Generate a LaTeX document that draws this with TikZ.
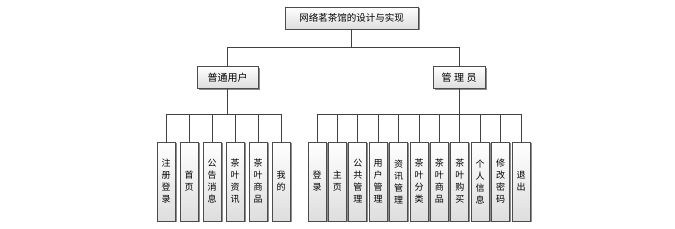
\documentclass[tikz,border=0pt]{standalone}
\usepackage{fontspec}
\setmainfont{Noto Sans CJK SC}
\usetikzlibrary{shadows}
\begin{document}
\begin{tikzpicture}[x=1pt,y=-1pt,
  box/.style={draw=black!70, line width=0.8pt, top color=white, bottom color=black!13,
    drop shadow={shadow xshift=1.5pt, shadow yshift=-1.5pt, fill=black!45, opacity=1},
    inner sep=0pt, align=center},
  topbox/.style={box, minimum width=133pt, minimum height=22pt, font=\fontsize{9.5}{11}\selectfont},
  midbox/.style={box, minimum height=22pt, font=\fontsize{10}{11}\selectfont},
  leaf/.style={box, minimum width=18pt, minimum height=79pt, font=\fontsize{9}{12}\selectfont},
  conn/.style={draw=black!75, line width=0.8pt}]
\useasboundingbox (0,0) rectangle (675,229);
\node[topbox] (top) at (351.5,18) {网络茗茶馆的设计与实现};
\node[midbox, minimum width=61pt] (user) at (227.5,77.5) {普通用户};
\node[midbox, minimum width=52pt] (admin) at (459,77.5) {管\hspace{0.25em}理\hspace{0.25em}员};
\coordinate (bus0) at (0,47);
\coordinate (bus1) at (0,114);
\draw[conn] (top.south) -- (top.south |- bus0) -| (user.north);
\draw[conn] (top.south |- bus0) -| (admin.north);
% user leaves
\foreach \i/\t in {0/{注\\册\\登\\录},1/{首\\页},2/{公\\告\\消\\息},3/{茶\\叶\\资\\讯},4/{茶\\叶\\商\\品},5/{我\\的}}{
  \node[leaf] (u\i) at (166+23*\i,181.5) {\t};
  \draw[conn] (user.south) -- (user.south |- bus1) -| (u\i.north);
}
% admin leaves
\foreach \i/\t in {0/{登\\录},1/{主\\页},2/{公\\共\\管\\理},3/{用\\户\\管\\理},4/{资\\讯\\管\\理},5/{茶\\叶\\分\\类},6/{茶\\叶\\商\\品},7/{茶\\叶\\购\\买},8/{个\\人\\信\\息},9/{修\\改\\密\\码},10/{退\\出}}{
  \node[leaf] (a\i) at (317+20.4*\i,181.5) {\t};
  \draw[conn] (admin.south) -- (admin.south |- bus1) -| (a\i.north);
}
\end{tikzpicture}
\end{document}
